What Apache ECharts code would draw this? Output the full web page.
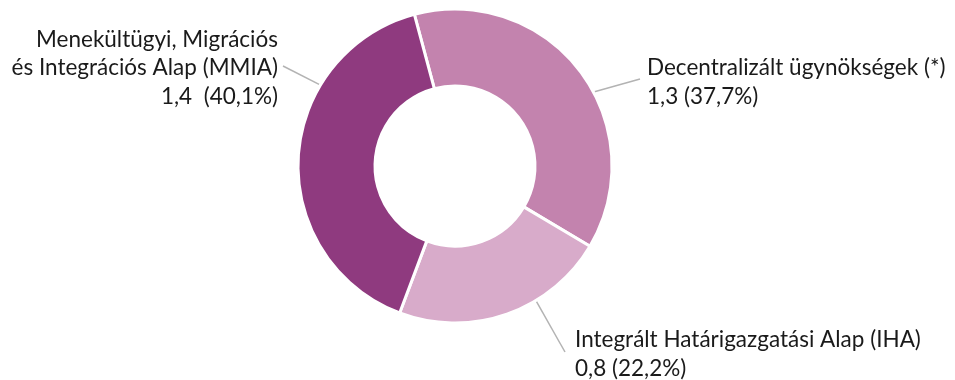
<!DOCTYPE html>
<html>
<head>
<meta charset="utf-8">
<script src="https://cdn.jsdelivr.net/npm/echarts@6/dist/echarts.min.js"></script>
<style>
html,body{margin:0;padding:0;background:#fff;}
#chart{width:955px;height:380px;}
</style>
</head>
<body>
<div id="chart"></div>
<script>
var categories = ['Decentralizált ügynökségek (*)', 'Integrált Határigazgatási Alap (IHA)', 'Menekültügyi, Migrációs\nés Integrációs Alap (MMIA)'];
var amounts = ['1,3', '0,8', '1,4'];
var shares = [37.7, 22.2, 40.1];
var shareLabels = ['37,7%', '22,2%', '40,1%'];
var colors = ['#C383AE', '#D8ABCA', '#8F3A7F'];

// layout only: label anchors, leader-line angles and end offsets
var CX = 455, CY = 166, R_IN = 80, R_OUT = 157;
var labelPos = [
  {x: 647, y: 82, align: 'left', angle: 28, endDx: -7, endDy: -3},
  {x: 575, y: 354, align: 'left', angle: -59, endDx: -10, endDy: -2},
  {x: 278, y: 68, align: 'right', angle: 149, endDx: 5, endDy: -2}
];

var data = categories.map(function (c, i) {
  var sep = i === 2 ? '  ' : ' ';
  return {
    name: c,
    value: shares[i],
    itemStyle: {color: colors[i]},
    label: {
      formatter: c + '\n' + amounts[i] + sep + '(' + shareLabels[i] + ')',
      align: labelPos[i].align
    }
  };
});

var chart = echarts.init(document.getElementById('chart'));
chart.setOption({
  animation: false,
  series: [{
    type: 'pie',
    center: [CX, CY],
    radius: [R_IN, R_OUT],
    startAngle: 105,
    clockwise: true,
    avoidLabelOverlap: false,
    itemStyle: {borderColor: '#fff', borderWidth: 3},
    label: {
      show: true,
      position: 'outside',
      fontFamily: 'Lato',
      fontSize: 22.5,
      lineHeight: 28.5,
      color: '#1a1a1a'
    },
    labelLine: {
      show: true,
      length: 20,
      length2: 0,
      lineStyle: {color: '#b3b3b3', width: 1.5}
    },
    labelLayout: function (p) {
      var lp = labelPos[p.dataIndex];
      var a = lp.angle * Math.PI / 180;
      var r = R_OUT + 1;
      var start = [CX + r * Math.cos(a), CY - r * Math.sin(a)];
      var end = [lp.x + lp.endDx, lp.y + lp.endDy];
      return {
        x: lp.x, y: lp.y, align: lp.align, verticalAlign: 'middle',
        labelLinePoints: [start, end, end]
      };
    },
    emphasis: {disabled: true},
    data: data
  }]
});
</script>
</body>
</html>
